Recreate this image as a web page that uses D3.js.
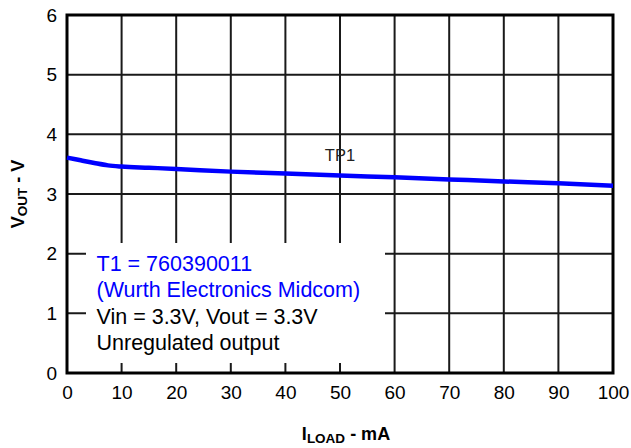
<!DOCTYPE html>
<html>
<head>
<meta charset="utf-8">
<script src="https://cdn.jsdelivr.net/npm/d3@7"></script>
<style>
  html, body { margin: 0; padding: 0; background: #fff; }
  text { font-family: "Liberation Sans", Arial, sans-serif; }
</style>
</head>
<body>
<svg id="chart" width="631" height="448"></svg>
<script>
const loadCurrent = [0, 2.5, 5, 7.5, 10, 15, 20, 30, 40, 50, 60, 70, 80, 90, 100];
const vout = [3.61, 3.565, 3.52, 3.48, 3.46, 3.44, 3.42, 3.375, 3.345, 3.31, 3.28, 3.245, 3.21, 3.18, 3.14];
const xTicks = [0, 10, 20, 30, 40, 50, 60, 70, 80, 90, 100];
const yTicks = [0, 1, 2, 3, 4, 5, 6];
const seriesLabel = "TP1";
const noteLines = [
  { text: "T1 = 760390011", color: "#0000ff" },
  { text: "(Wurth Electronics Midcom)", color: "#0000ff" },
  { text: "Vin = 3.3V, Vout = 3.3V", color: "#000" },
  { text: "Unregulated output", color: "#000" }
];

const svg = d3.select("#chart");
const L = 67, R = 613, T = 15, B = 373;
const x = d3.scaleLinear().domain([0, 100]).range([L, R]);
const y = d3.scaleLinear().domain([0, 6]).range([B, T]);

// grid
const g = svg.append("g");
g.selectAll("line.v").data(xTicks.slice(1, -1)).join("line")
  .attr("x1", d => x(d)).attr("x2", d => x(d))
  .attr("y1", T).attr("y2", B)
  .attr("stroke", "#1a1a1a").attr("stroke-width", 2);
g.selectAll("line.h").data(yTicks.slice(1, -1)).join("line")
  .attr("x1", L).attr("x2", R)
  .attr("y1", d => y(d)).attr("y2", d => y(d))
  .attr("stroke", "#1a1a1a").attr("stroke-width", 2);

// annotation box (white, covers grid)
g.append("rect").attr("x", 86).attr("y", 243).attr("width", 385 - 86).attr("height", 363 - 243)
  .attr("fill", "#fff");

// frame
svg.append("rect").attr("x", L).attr("y", T).attr("width", R - L).attr("height", B - T)
  .attr("fill", "none").attr("stroke", "#000").attr("stroke-width", 3);

// curve
const line = d3.line().x((d, i) => x(loadCurrent[i])).y(d => y(d)).curve(d3.curveMonotoneX);
svg.append("path").datum(vout).attr("d", line)
  .attr("fill", "none").attr("stroke", "#0000ff").attr("stroke-width", 4.5);

svg.append("text").attr("x", x(50)).attr("y", 160.5).attr("text-anchor", "middle")
  .attr("font-size", 16.5).attr("fill", "#222").text(seriesLabel);

// axes tick labels
const xAxis = d3.axisBottom(x).tickValues(xTicks).tickFormat(d3.format("d")).tickSize(0).tickPadding(13);
const xa = svg.append("g").attr("transform", `translate(0,${B})`).call(xAxis);
xa.select(".domain").remove();
xa.selectAll("text").attr("font-size", 19).attr("fill", "#000")
  .attr("font-family", "Liberation Sans, Arial, sans-serif");

const yAxis = d3.axisLeft(y).tickValues(yTicks).tickFormat(d3.format("d")).tickSize(0).tickPadding(10);
const ya = svg.append("g").attr("transform", `translate(${L},0)`).call(yAxis);
ya.select(".domain").remove();
ya.selectAll("text").attr("font-size", 19).attr("fill", "#000")
  .attr("font-family", "Liberation Sans, Arial, sans-serif");

// notes
noteLines.forEach((d, i) => {
  svg.append("text").attr("x", 96.5).attr("y", 270.5 + i * 26.5)
    .attr("font-size", 21.5).attr("fill", d.color).text(d.text);
});

// axis titles
const xt = svg.append("text").attr("x", 346).attr("y", 440).attr("text-anchor", "middle")
  .attr("font-size", 18).attr("font-weight", "bold");
xt.append("tspan").text("I");
xt.append("tspan").attr("font-size", 13.5).attr("dy", 3).text("LOAD");
xt.append("tspan").attr("dy", -3).text(" - mA");

const yt = svg.append("text").attr("transform", `translate(24,${(T + B) / 2}) rotate(-90)`)
  .attr("text-anchor", "middle").attr("font-size", 18).attr("font-weight", "bold");
yt.append("tspan").text("V");
yt.append("tspan").attr("font-size", 13.5).attr("dy", 3).text("OUT");
yt.append("tspan").attr("dy", -3).text(" - V");
</script>
</body>
</html>
